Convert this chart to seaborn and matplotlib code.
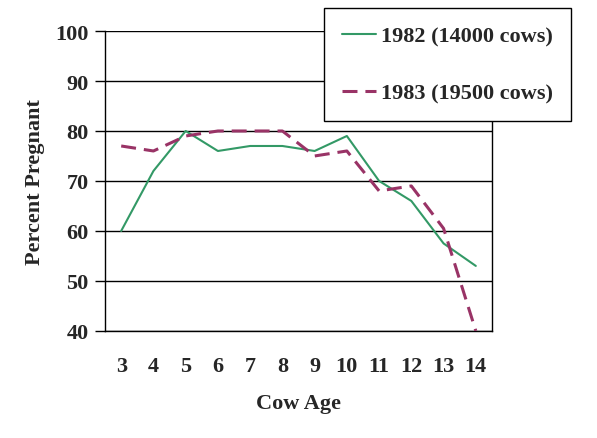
import numpy as np
import pandas as pd
import matplotlib
matplotlib.use("Agg")
import matplotlib.pyplot as plt
import seaborn as sns

ages = [3, 4, 5, 6, 7, 8, 9, 10, 11, 12, 13, 14]
preg_1982 = [60, 72, 80, 76, 77, 77, 76, 79, 70, 66, 57.5, 53]
preg_1983 = [77, 76, 79, 80, 80, 80, 75, 76, 68, 69, 60.5, 40]
labels = ["1982 (14000 cows)", "1983 (19500 cows)"]

df = pd.DataFrame({
    "age": ages * 2,
    "pct": preg_1982 + preg_1983,
    "year": [labels[0]] * len(ages) + [labels[1]] * len(ages),
})

sns.set_style("white")
plt.rcParams["font.family"] = ["Liberation Serif", "DejaVu Serif"]
plt.rcParams["font.weight"] = "bold"

fig = plt.figure(figsize=(5.97, 4.39), dpi=100)
ax = fig.add_axes([0.176, 0.244, 0.648, 0.683])

ax = sns.lineplot(data=df, x="age", y="pct", hue="year", style="year",
                  palette=["#339966", "#993366"],
                  dashes=[(None, None), (4.9, 2.6)], ax=ax, legend=False)
ax.lines[0].set_linewidth(1.5)
ax.lines[1].set_linewidth(2.2)
ax.lines[0].set_zorder(3)
ax.lines[1].set_zorder(4)

ax.set_xlim(2.5, 14.5)
ax.set_ylim(40, 100)
ax.set_yticks(range(40, 101, 10))
ax.yaxis.grid(True, color="black", linewidth=1)
ax.set_axisbelow(True)
ax.set_xticks(ages)
ax.set_xticks(np.arange(2.5, 15, 1), minor=True)
ax.tick_params(axis="x", which="major", length=0, pad=18, labelsize=16)
ax.tick_params(axis="x", which="minor", length=6, width=1, color="black", direction="out")
ax.tick_params(axis="y", length=7, width=1, color="black", direction="out", pad=5, labelsize=16, left=True)
for lab in ax.get_xticklabels() + ax.get_yticklabels():
    lab.set_fontweight("bold")

for s in ax.spines.values():
    s.set_color("black")
    s.set_linewidth(1)
ax.spines["top"].set_visible(False)

ax.set_xlabel("Cow Age", fontsize=16, fontweight="bold", labelpad=12)
ax.set_ylabel("Percent Pregnant", fontsize=16, fontweight="bold", labelpad=7)

handles = [plt.Line2D([], [], color="#339966", lw=1.5),
           plt.Line2D([], [], color="#993366", lw=2.2, dashes=(4.9, 2.6))]
leg = fig.legend(handles, labels, loc="upper left", bbox_to_anchor=(324 / 597, 1 - 9 / 439),
                 frameon=True, fancybox=False, edgecolor="black", framealpha=1,
                 prop={"size": 16, "weight": "bold"}, borderpad=0.8, labelspacing=1.65,
                 handlelength=1.53, handletextpad=0.25, borderaxespad=0)
leg.get_frame().set_linewidth(1)

fig.savefig("out.png", dpi=100)
plt.close(fig)
